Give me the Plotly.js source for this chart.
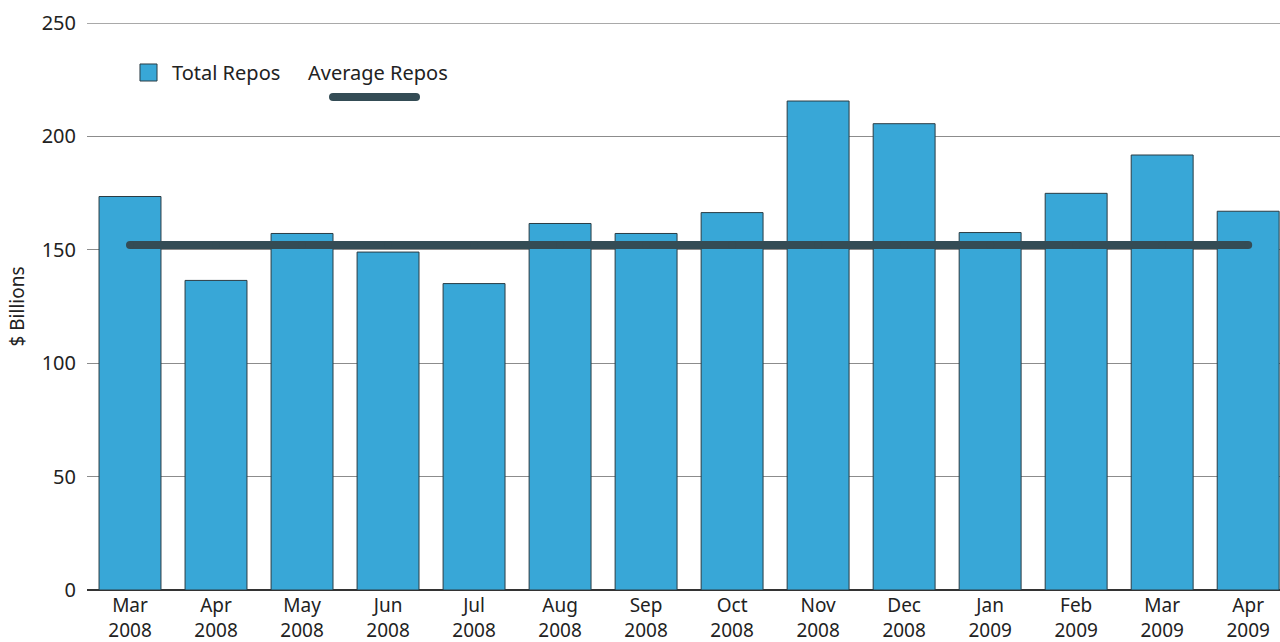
<!DOCTYPE html>
<html>
<head>
<meta charset="utf-8">
<script src="https://cdn.plot.ly/plotly-3.0.1.min.js"></script>
<style>html,body{margin:0;padding:0;background:#fff;}#chart{width:1280px;height:642px;}</style>
</head>
<body>
<div id="chart"></div>
<script>
const months = ["Mar<br>2008","Apr<br>2008","May<br>2008","Jun<br>2008","Jul<br>2008","Aug<br>2008","Sep<br>2008","Oct<br>2008","Nov<br>2008","Dec<br>2008","Jan<br>2009","Feb<br>2009","Mar<br>2009","Apr<br>2009"];
const totalRepos = [173.5,136.5,157.2,149.0,135.1,161.6,157.2,166.4,215.6,205.6,157.6,174.9,191.8,167.0];
const averageRepos = [152.1,152.1,152.1,152.1,152.1,152.1,152.1,152.1,152.1,152.1,152.1,152.1,152.1,152.1];
const yTicks = [0,50,100,150,200,250];

const FONT = "Noto Sans, Open Sans, sans-serif";
const barColor = "#38a7d7";
const lineColor = "#344c55";

const traces = [
  {
    type: "bar", name: "Total Repos", x: months, y: totalRepos,
    marker: {color: barColor, line: {color: "#2a3c44", width: 1}},
    showlegend: false, hoverinfo: "y"
  },
  {
    type: "scatter", mode: "lines+markers", name: "Average Repos", x: months, y: averageRepos,
    line: {color: lineColor, width: 8},
    marker: {color: lineColor, size: 8},
    showlegend: false
  }
];

const legY = 0.8695;
const layout = {
  width: 1280, height: 642,
  margin: {l: 87, r: 0, t: 23, b: 52},
  paper_bgcolor: "#fff", plot_bgcolor: "#fff",
  font: {family: FONT, size: 20, color: "#222"},
  bargap: 0.28,
  xaxis: {
    type: "category", range: [-0.5, 13.37],
    showgrid: false, zeroline: false, showline: false, ticks: "",
    ticklabelstandoff: 2,
    tickfont: {family: FONT, size: 19, color: "#222"}, fixedrange: true
  },
  yaxis: {
    range: [0, 250], tickvals: yTicks, ticktext: yTicks.map(String),
    showgrid: true, gridcolor: "#8c8c8c", gridwidth: 1,
    zeroline: true, zerolinecolor: "#333", zerolinewidth: 1.5,
    ticks: "", ticklabelstandoff: 10,
    tickfont: {family: FONT, size: 20, color: "#222"},
    title: {text: "$ Billions", font: {family: FONT, size: 19, color: "#222"}, standoff: 12},
    fixedrange: true
  },
  shapes: [
    {type: "line", xref: "paper", yref: "y", x0: 0, x1: 1, y0: 250, y1: 250, line: {color: "#555", width: 1.2}},
    {type: "rect", xref: "paper", yref: "paper", x0: 0.0444, x1: 0.0587, y0: 0.8977, y1: 0.9277,
     fillcolor: barColor, line: {color: "#2a3c44", width: 1}},
    {type: "line", xref: "paper", yref: "paper", x0: 0.2062, x1: 0.2758, y0: legY, y1: legY,
     line: {color: lineColor, width: 8}},
    {type: "circle", xref: "paper", yref: "paper", xsizemode: "pixel", ysizemode: "pixel",
     xanchor: 0.2062, yanchor: legY, x0: -4, x1: 4, y0: -4, y1: 4, fillcolor: lineColor, line: {width: 0}},
    {type: "circle", xref: "paper", yref: "paper", xsizemode: "pixel", ysizemode: "pixel",
     xanchor: 0.2758, yanchor: legY, x0: -4, x1: 4, y0: -4, y1: 4, fillcolor: lineColor, line: {width: 0}}
  ],
  annotations: [
    {xref: "paper", yref: "paper", x: 0.0696, y: 0.9127, xanchor: "left", yanchor: "middle",
     text: "Total Repos", showarrow: false, font: {family: FONT, size: 20, color: "#222"}},
    {xref: "paper", yref: "paper", x: 0.1836, y: 0.9127, xanchor: "left", yanchor: "middle",
     text: "Average Repos", showarrow: false, font: {family: FONT, size: 20, color: "#222"}}
  ]
};

Plotly.newPlot("chart", traces, layout, {displayModeBar: false, staticPlot: true});
</script>
</body>
</html>
